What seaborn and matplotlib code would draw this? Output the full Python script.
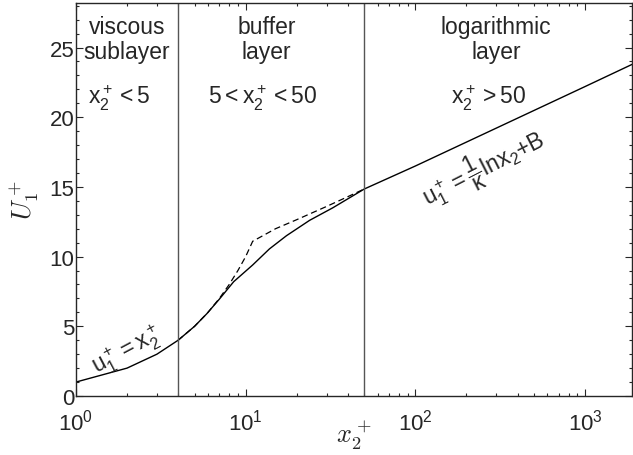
import numpy as np
import pandas as pd
import matplotlib
matplotlib.use("Agg")
import matplotlib.pyplot as plt
import seaborn as sns

# velocity profile
x_solid = [1, 2, 3, 4, 5, 5.9, 7, 8.5, 11, 13.8, 17.4, 23.8, 32.6, 50, 100, 1000, 1900]
u_solid = [1, 2, 3, 4, 5.0, 5.9, 6.95, 8.2, 9.4, 10.55, 11.5, 12.6, 13.5, 14.85, 16.5, 22.2, 23.8]

# piecewise laws (u+ = x+ then log law)
x_dash = [4, 5, 6, 7, 8, 9, 10, 11, 15, 20, 30, 40, 50]
u_dash = [4, 5, 6, 7, 8, 9, 10, 11.1, 12.0, 12.65, 13.6, 14.3, 14.85]

boundaries = [4, 50]
yticks = [0, 5, 10, 15, 20, 25]
xticks = [1, 10, 100, 1000]
xtick_labels = [r"$\mathregular{10^{0}}$", r"$\mathregular{10^{1}}$",
                r"$\mathregular{10^{2}}$", r"$\mathregular{10^{3}}$"]

sns.set_style("ticks")
plt.rcParams["font.family"] = ["Liberation Sans", "DejaVu Sans"]
plt.rcParams["mathtext.fontset"] = "cm"

fig = plt.figure(figsize=(6.33, 4.56), dpi=100)
ax = fig.add_axes([0.120, 0.1294, 0.879, 0.862])

solid = pd.DataFrame({"x": x_solid, "u": u_solid})
dash = pd.DataFrame({"x": x_dash, "u": u_dash})
sns.lineplot(data=solid, x="x", y="u", color="black", lw=1.0, sort=False,
             estimator=None, ax=ax)
sns.lineplot(data=dash, x="x", y="u", color="black", lw=0.9, sort=False,
             estimator=None, ax=ax, linestyle=(0, (5, 3)))
for b in boundaries:
    ax.axvline(b, color="#555555", lw=1.0)

ax.set_xscale("log")
ax.set_xlim(1, 1900)
ax.set_ylim(0, 28.2)
ax.set_xticks(xticks)
ax.set_xticklabels(xtick_labels)
ax.set_yticks(yticks)
ax.yaxis.set_minor_locator(matplotlib.ticker.MultipleLocator(1))
ax.tick_params(axis="both", which="both", direction="in", top=True, right=True,
               labelsize=16, width=0.8)
ax.tick_params(axis="both", which="major", length=5)
ax.tick_params(axis="both", which="minor", length=2.5)
ax.tick_params(axis="y", which="major", pad=1)
ax.tick_params(axis="x", which="major", pad=9)
for s in ax.spines.values():
    s.set_linewidth(1.0)

ax.set_xlabel(r"$x_2^+$", fontsize=19, labelpad=-12)
ax.set_ylabel(r"$U_1^+$", fontsize=19, labelpad=6)

fs = 16.5
ax.text(2.0, 25.6, "viscous\nsublayer", ha="center", va="center", fontsize=fs, linespacing=1.1)
ax.text(13.3, 25.6, "buffer\nlayer", ha="center", va="center", fontsize=fs, linespacing=1.1)
ax.text(299, 25.6, "logarithmic\nlayer", ha="center", va="center", fontsize=fs, linespacing=1.1)
ax.text(1.81, 21.4, r"$\mathregular{x_2^+{<}5}$", ha="center", va="center", fontsize=fs)
ax.text(12.6, 21.4, r"$\mathregular{5{<}x_2^+{<}50}$", ha="center", va="center", fontsize=fs)
ax.text(272, 21.4, r"$\mathregular{x_2^+{>}50}$", ha="center", va="center", fontsize=fs)
ax.text(2.0, 3.3, r"$\mathregular{u_1^+{=}x_2^+}$", ha="center", va="center",
        fontsize=fs, rotation=28, rotation_mode="anchor")
ax.text(251, 16.4, r"$\mathregular{u_1^+{=}\dfrac{1}{\kappa}ln x_2{+}B}$", ha="center",
        va="center", fontsize=fs, rotation=27, rotation_mode="anchor")

fig.savefig("out.png", dpi=100)
